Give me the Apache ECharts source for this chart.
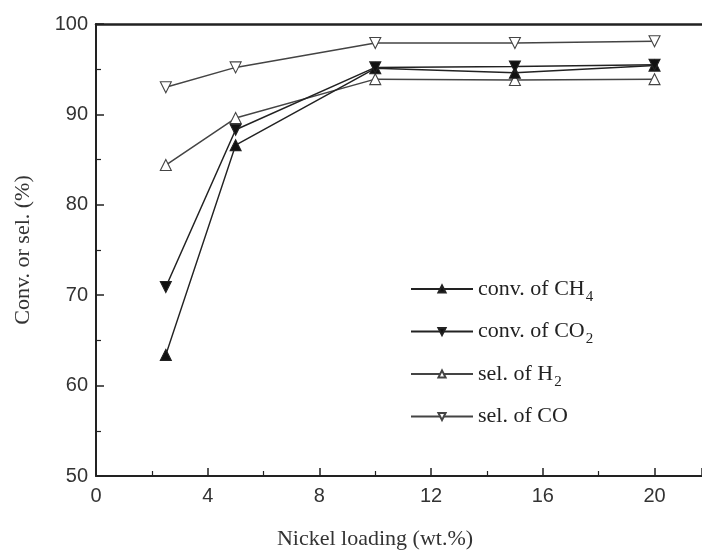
<!DOCTYPE html>
<html><head><meta charset="utf-8">
<script src="https://cdn.jsdelivr.net/npm/echarts@6/dist/echarts.min.js"></script>
<style>html,body{margin:0;padding:0;background:#fff}#c{width:702px;height:551px}</style>
</head><body><div id="c"></div>
<script>
var xValues = [2.5, 5, 10, 15, 20];
var convCH4 = [63.4, 86.6, 95.1, 94.6, 95.4];
var convCO2 = [70.9, 88.3, 95.2, 95.3, 95.5];
var selH2 = [84.4, 89.6, 93.9, 93.8, 93.9];
var selCO = [93.0, 95.2, 97.9, 97.9, 98.1];
var seriesNames = ['conv. of CH{s|4}', 'conv. of CO{s|2}', 'sel. of H{s|2}', 'sel. of CO'];
var xTicks = [0, 4, 8, 12, 16, 20];
var yTicks = [50, 60, 70, 80, 90, 100];

function pairs(v){ return xValues.map(function(x,i){ return [x, v[i]]; }); }
function mk(name, data, filled, down){
  var lc = filled ? '#222' : '#444';
  return {
    name: name, type: 'line', data: pairs(data),
    symbol: 'triangle', symbolSize: 11, symbolRotate: down ? 180 : 0,
    lineStyle: {color: lc, width: 1.5},
    itemStyle: {color: filled ? '#111' : '#fff', borderColor: lc, borderWidth: 1.1},
    emphasis: {disabled: true}, z: filled ? 3 : 2
  };
}
var chart = echarts.init(document.getElementById('c'), null, {renderer: 'canvas'});
chart.setOption({
  animation: false,
  backgroundColor: '#fff',
  grid: {left: 96, top: 24, right: 0, bottom: 75, containLabel: false, outerBoundsMode: 'none'},
  legend: {
    left: 405, top: 273, orient: 'vertical', itemWidth: 62, itemHeight: 9, itemGap: 16,
    data: seriesNames,
    textStyle: {fontFamily: 'Liberation Serif', fontSize: 22, color: '#222',
      rich: {s: {fontFamily: 'Liberation Serif', fontSize: 15, color: '#222', padding: [16, 0, 0, 1]}}}
  },
  xAxis: [{
    type: 'value', min: 0, max: 21.7, interval: 4,
    name: 'Nickel loading (wt.%)', nameLocation: 'middle', nameGap: 52,
    nameTextStyle: {fontFamily: 'Liberation Serif', fontSize: 22, color: '#333', padding: [0, 48, 0, 0]},
    axisLine: {lineStyle: {color: '#222', width: 2}},
    axisTick: {inside: true, length: 8, lineStyle: {color: '#222', width: 1.5}},
    minorTick: {show: true, splitNumber: 2, length: 5, lineStyle: {color: '#222', width: 1.2}},
    axisLabel: {fontFamily: 'Liberation Sans', fontSize: 20, color: '#333', margin: 10,
      formatter: function(v){ return xTicks.indexOf(v) >= 0 ? String(v) : ''; }},
    splitLine: {show: false}
  }, {
    type: 'value', position: 'top', min: 0, max: 21.7,
    axisLine: {show: true, onZero: false, lineStyle: {color: '#222', width: 2.5}},
    axisTick: {show: false}, axisLabel: {show: false}, splitLine: {show: false}
  }],
  yAxis: {
    type: 'value', min: 50, max: 100, interval: 10,
    name: 'Conv. or sel. (%)', nameLocation: 'middle', nameGap: 62,
    nameTextStyle: {fontFamily: 'Liberation Serif', fontSize: 22, color: '#333'},
    axisLine: {show: true, lineStyle: {color: '#222', width: 2}},
    axisTick: {inside: true, length: 8, lineStyle: {color: '#222', width: 1.5}},
    minorTick: {show: true, splitNumber: 2, length: 5, lineStyle: {color: '#222', width: 1.2}},
    axisLabel: {fontFamily: 'Liberation Sans', fontSize: 20, color: '#333', margin: 8,
      formatter: function(v){ return yTicks.indexOf(v) >= 0 ? String(v) : ''; }},
    splitLine: {show: false}
  },
  series: [
    mk(seriesNames[0], convCH4, true, false),
    mk(seriesNames[1], convCO2, true, true),
    mk(seriesNames[2], selH2, false, false),
    mk(seriesNames[3], selCO, false, true)
  ]
});
</script></body></html>
